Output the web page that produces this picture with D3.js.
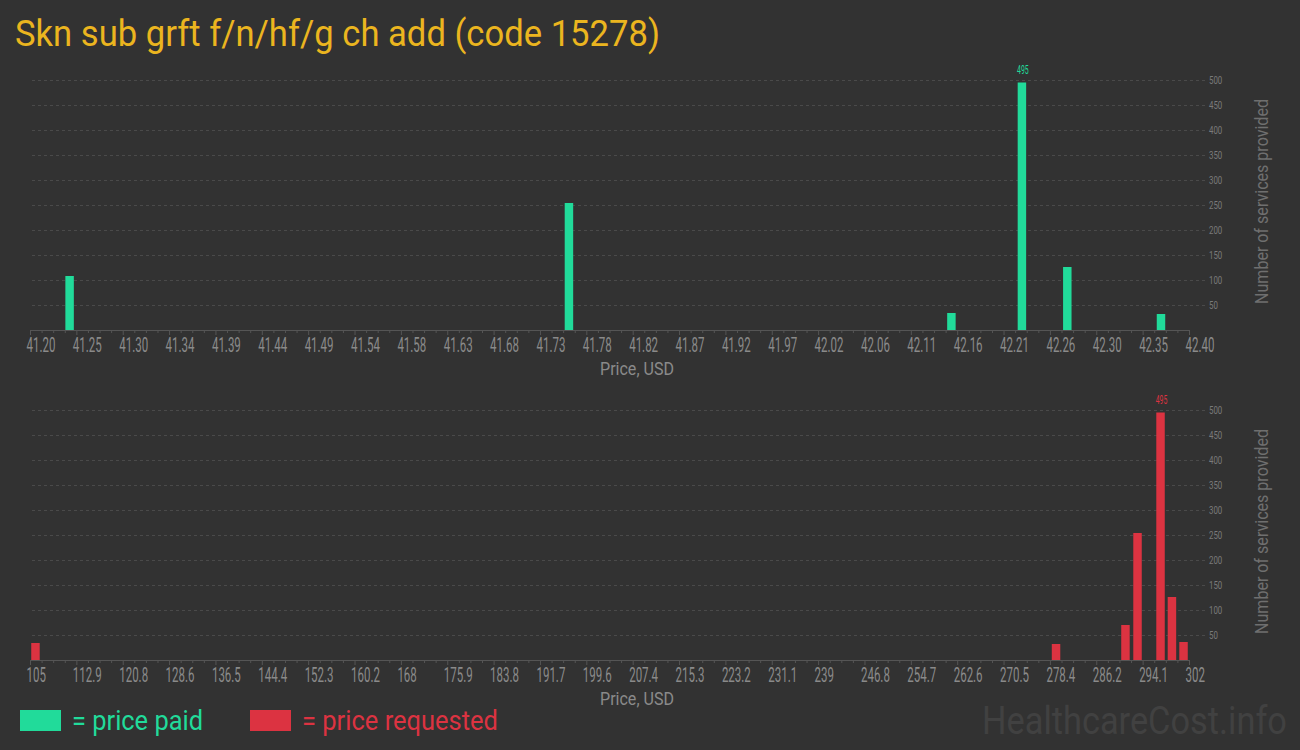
<!DOCTYPE html>
<html><head><meta charset="utf-8">
<script src="https://cdn.jsdelivr.net/npm/d3@7/dist/d3.min.js"></script>
<style>body{margin:0;background:#323232;} svg{display:block;font-family:Roboto,"Noto Sans",sans-serif;}</style>
</head><body><svg id="c" width="1300" height="750"></svg>
<script>
const chartTitle = "Skn sub grft f/n/hf/g ch add (code 15278)";
const paidPrices = [41.241, 41.758, 42.154, 42.227, 42.274, 42.371];
const paidCounts = [108, 254, 34, 495, 126, 32];
const requestedPrices = [105.93, 279.4, 291.2, 293.25, 297.16, 299.1, 301.07];
const requestedCounts = [34, 32, 70, 254, 495, 126, 36];
const paidDomain = [41.20, 42.40];
const requestedDomain = [105, 302];
const paidTickLabels = ["41.20","41.25","41.30","41.34","41.39","41.44","41.49","41.54","41.58","41.63","41.68","41.73","41.78","41.82","41.87","41.92","41.97","42.02","42.06","42.11","42.16","42.21","42.26","42.30","42.35","42.40"];
const requestedTickLabels = ["105","112.9","120.8","128.6","136.5","144.4","152.3","160.2","168","175.9","183.8","191.7","199.6","207.4","215.3","223.2","231.1","239","246.8","254.7","262.6","270.5","278.4","286.2","294.1","302"];
const yTickValues = [50,100,150,200,250,300,350,400,450,500];
const countDomain = [0, 500];
const legendLabels = ["= price paid", "= price requested"];
const axisTitleX = "Price, USD";
const axisTitleY = "Number of services provided";
const watermark = "HealthcareCost.info";

const GREEN = "#21db9a", RED = "#dc3341", GOLD = "#ebb51f";
const svg = d3.select("#c");
svg.append("rect").attr("width",1300).attr("height",750).attr("fill","#323232");

svg.append("text").attr("x",15).attr("y",46).attr("fill",GOLD)
  .attr("font-size",37).attr("textLength",645).attr("lengthAdjust","spacingAndGlyphs")
  .text(chartTitle);

function panel(prices, counts, domain, tickLabels, base, color) {
  const x = d3.scaleLinear().domain(domain).range([30, 1189]);
  const y = d3.scaleLinear().domain(countDomain).range([base, base - 250]);
  const g = svg.append("g");

  const ya = d3.axisRight(y).tickValues(yTickValues).tickSize(-(1205 - 32)).tickFormat(d3.format("d"));
  const yg = g.append("g").attr("transform","translate(1205,0)").call(ya);
  yg.select(".domain").remove();
  yg.selectAll("line").attr("stroke","#4a4a4a").attr("stroke-dasharray","3,3");
  yg.selectAll("text").attr("fill","#7a7a7a").attr("font-size",10.5)
    .attr("x", 4/0.75).attr("transform","scale(0.75,1)").attr("text-anchor","start").style("font-family","Roboto");

  const n = tickLabels.length - 1;
  const step = (domain[1]-domain[0]) / n;
  const majors = d3.range(n+1).map(i => domain[0] + i*step);
  const minors = d3.range(n*4+1).map(i => domain[0] + i*step/4).filter((d,i)=> i%4 !== 0);
  const xm = d3.axisBottom(x).tickValues(minors).tickSize(3).tickFormat("");
  const xmg = g.append("g").attr("transform",`translate(0,${base})`).call(xm);
  xmg.select(".domain").remove();
  xmg.selectAll("line").attr("stroke","#555");

  const xa = d3.axisBottom(x).tickValues(majors).tickSize(5).tickFormat((d,i)=>tickLabels[i]);
  const xg = g.append("g").attr("transform",`translate(0,${base})`).call(xa);
  xg.select(".domain").attr("stroke","#555");
  xg.selectAll("line").attr("stroke","#555");
  xg.selectAll("text").attr("fill","#8a8a8a").attr("font-size",19.5).style("font-family","Roboto")
    .attr("text-anchor","start").attr("dy",null).attr("y",22)
    .attr("x", -4/0.59).attr("transform","scale(0.59,1)");

  const bw = x(domain[0] + (domain[1]-domain[0])/125) - x(domain[0]) - 0.8;
  const data = prices.map((p,i)=>({p, c:counts[i]}));
  g.selectAll("rect.bar").data(data).join("rect").attr("class","bar")
    .attr("x", d => x(d.p) - bw/2).attr("width", bw)
    .attr("y", d => y(d.c)).attr("height", d => y(0) - y(d.c))
    .attr("fill", color);

  const mx = d3.max(data, d=>d.c);
  const md = data.find(d=>d.c===mx);
  g.append("text").attr("transform",`translate(${x(md.p)+1},${y(md.c)-9}) scale(0.55,1)`)
    .attr("text-anchor","middle").attr("fill",color).attr("font-size",12.5).text(mx);

  g.append("text").attr("x",637).attr("y",base+45).attr("text-anchor","middle")
    .attr("fill","#8a8a8a").attr("font-size",19).attr("textLength",74).attr("lengthAdjust","spacingAndGlyphs")
    .text(axisTitleX);
  g.append("text").attr("transform",`translate(1268,${base-128.5}) rotate(-90)`).attr("text-anchor","middle")
    .attr("fill","#6f6f6f").attr("font-size",18).attr("textLength",205).attr("lengthAdjust","spacingAndGlyphs")
    .text(axisTitleY);
}
panel(paidPrices, paidCounts, paidDomain, paidTickLabels, 330, GREEN);
panel(requestedPrices, requestedCounts, requestedDomain, requestedTickLabels, 660, RED);

const lg = svg.append("g");
lg.append("rect").attr("x",20).attr("y",710).attr("width",41).attr("height",21).attr("fill",GREEN);
lg.append("text").attr("x",72).attr("y",730).attr("fill",GREEN).attr("font-size",28.5)
  .attr("textLength",131).attr("lengthAdjust","spacingAndGlyphs").text(legendLabels[0]);
lg.append("rect").attr("x",250).attr("y",710).attr("width",41).attr("height",21).attr("fill",RED);
lg.append("text").attr("x",302).attr("y",730).attr("fill",RED).attr("font-size",28.5)
  .attr("textLength",196).attr("lengthAdjust","spacingAndGlyphs").text(legendLabels[1]);

const wm = svg.append("text").attr("fill","#414141").attr("font-size",38).text(watermark);
const wmW = wm.node().getComputedTextLength() || 330;
const k = 305 / wmW;
wm.attr("transform",`translate(982,734) scale(${k},1)`);
</script></body></html>
